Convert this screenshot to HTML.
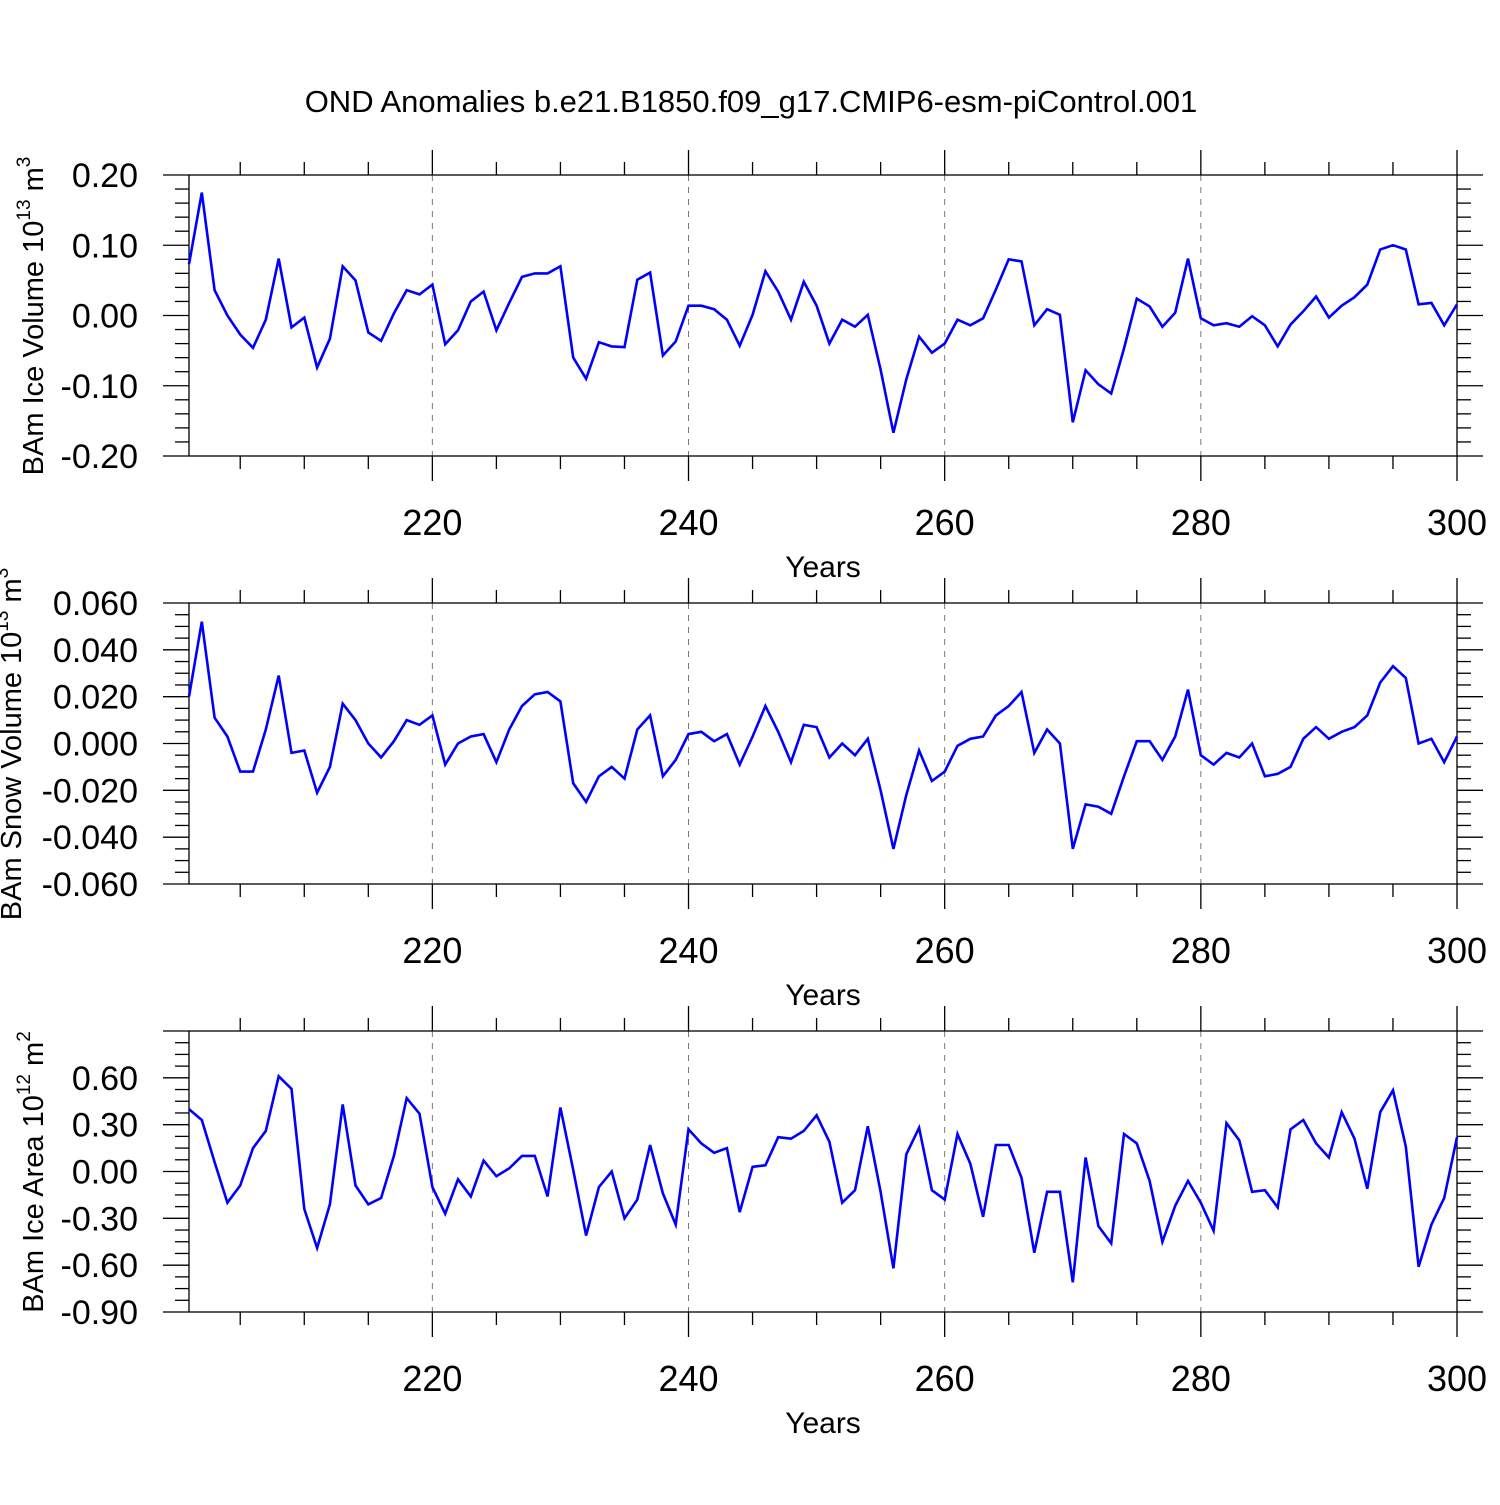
<!DOCTYPE html>
<html><head><meta charset="utf-8"><style>
body{margin:0;background:#fff}
svg text{font-family:"Liberation Sans",sans-serif;fill:#000}
</style></head><body>
<svg id="chart" width="1500" height="1500" xmlns="http://www.w3.org/2000/svg">
<text x="751" y="112" font-size="31" text-anchor="middle">OND Anomalies b.e21.B1850.f09_g17.CMIP6-esm-piControl.001</text>
</svg>
<script>
const years = [];
for (let y = 201; y <= 300; y++) years.push(y);
const iceVolume = [0.073,0.175,0.036,0.0,-0.027,-0.046,-0.006,0.081,-0.017,-0.003,-0.074,-0.033,0.07,0.05,-0.024,-0.036,0.003,0.036,0.03,0.044,-0.041,-0.021,0.02,0.034,-0.021,0.018,0.055,0.06,0.06,0.07,-0.06,-0.09,-0.038,-0.044,-0.045,0.051,0.061,-0.057,-0.037,0.014,0.014,0.009,-0.006,-0.043,0.001,0.063,0.034,-0.006,0.048,0.014,-0.04,-0.006,-0.016,0.001,-0.077,-0.167,-0.091,-0.03,-0.053,-0.04,-0.006,-0.014,-0.004,0.037,0.08,0.077,-0.014,0.009,0.001,-0.152,-0.078,-0.098,-0.111,-0.047,0.024,0.013,-0.016,0.004,0.081,-0.004,-0.014,-0.011,-0.016,-0.001,-0.014,-0.044,-0.013,0.006,0.027,-0.003,0.014,0.026,0.044,0.094,0.1,0.094,0.016,0.018,-0.014,0.016];
const snowVolume = [0.020,0.052,0.011,0.003,-0.012,-0.012,0.006,0.029,-0.004,-0.003,-0.021,-0.010,0.017,0.01,0.0,-0.006,0.001,0.010,0.008,0.012,-0.009,0.0,0.003,0.004,-0.008,0.006,0.016,0.021,0.022,0.018,-0.017,-0.025,-0.014,-0.010,-0.015,0.006,0.012,-0.014,-0.007,0.004,0.005,0.001,0.004,-0.009,0.003,0.016,0.005,-0.008,0.008,0.007,-0.006,0.0,-0.005,0.002,-0.020,-0.045,-0.022,-0.003,-0.016,-0.012,-0.001,0.002,0.003,0.012,0.016,0.022,-0.004,0.006,0.0,-0.045,-0.026,-0.027,-0.030,-0.014,0.001,0.001,-0.007,0.003,0.023,-0.005,-0.009,-0.004,-0.006,0.0,-0.014,-0.013,-0.010,0.002,0.007,0.002,0.005,0.007,0.012,0.026,0.033,0.028,0.0,0.002,-0.008,0.003];
const iceArea = [0.40,0.33,0.06,-0.20,-0.09,0.15,0.26,0.61,0.53,-0.24,-0.49,-0.21,0.43,-0.09,-0.21,-0.17,0.1,0.47,0.37,-0.10,-0.27,-0.05,-0.16,0.07,-0.03,0.02,0.10,0.10,-0.16,0.41,0.01,-0.41,-0.10,0.0,-0.30,-0.18,0.17,-0.14,-0.34,0.27,0.18,0.12,0.15,-0.26,0.03,0.04,0.22,0.21,0.26,0.36,0.19,-0.20,-0.12,0.29,-0.13,-0.62,0.11,0.28,-0.12,-0.18,0.24,0.05,-0.29,0.17,0.17,-0.04,-0.52,-0.13,-0.13,-0.71,0.09,-0.35,-0.46,0.24,0.18,-0.06,-0.45,-0.22,-0.06,-0.20,-0.38,0.31,0.20,-0.13,-0.12,-0.23,0.27,0.33,0.18,0.09,0.38,0.21,-0.11,0.38,0.52,0.16,-0.61,-0.34,-0.17,0.22];
const xTickLabels = [220,240,260,280,300];
const yTicks1 = ["0.20","0.10","0.00","-0.10","-0.20"];
const yTicks2 = ["0.060","0.040","0.020","0.000","-0.020","-0.040","-0.060"];
const yTicks3 = ["0.60","0.30","0.00","-0.30","-0.60","-0.90"];

const svg = document.getElementById('chart');
const NS = 'http://www.w3.org/2000/svg';
const X0 = 189, X1 = 1457, YR0 = 201, YR1 = 300;
function xs(yr){ return X0 + (yr - YR0) * (X1 - X0) / (YR1 - YR0); }
function mk(tag, attrs, parent){ const e = document.createElementNS(NS, tag); for (const k in attrs) e.setAttribute(k, attrs[k]); (parent||svg).appendChild(e); return e; }

function panel(id, top, bottom, ymin, ymax, major, minor, ticks, values, titleHtml, titleX, titleCY){
  const g = mk('g', {});
  
  
  const ys = v => bottom - (v - ymin) * (bottom - top) / (ymax - ymin);
  [220,240,260,280].forEach(yr => {
    const l = mk('line', {x1:xs(yr), x2:xs(yr), y1:top, y2:bottom, stroke:'#777', 'stroke-width':1, 'stroke-dasharray':'6,6'}, g);
    
    
  });
  for (let yr = 205; yr <= 300; yr += 5) {
    const isMaj = yr % 20 === 0;
    const len = isMaj ? 25 : 13;
    mk('line', {x1:xs(yr), x2:xs(yr), y1:top, y2:top-len, stroke:'#000', 'stroke-width':1.3}, g);
    mk('line', {x1:xs(yr), x2:xs(yr), y1:bottom, y2:bottom+len, stroke:'#000', 'stroke-width':1.3}, g);
  }
  const n = Math.round((ymax - ymin) / minor);
  for (let i = 0; i <= n; i++) {
    const v = ymin + i * minor;
    const isMaj = Math.abs(Math.round((v - ymin) / major) * major - (v - ymin)) < minor * 0.01;
    const len = isMaj ? 26 : 14;
    const y = ys(v);
    mk('line', {x1:X0, x2:X0-len, y1:y, y2:y, stroke:'#000', 'stroke-width':1.3}, g);
    mk('line', {x1:X1, x2:X1+len, y1:y, y2:y, stroke:'#000', 'stroke-width':1.3}, g);
  }
  ticks.forEach(t => {
    const tx = mk('text', {x:138, y:ys(parseFloat(t)) + 12, 'font-size':34, 'text-anchor':'end'}, g);
    tx.textContent = t;
    
    
  });
  xTickLabels.forEach(t => {
    const tx = mk('text', {x:xs(t), y:bottom + 79, 'font-size':36, 'text-anchor':'middle'}, g);
    tx.textContent = t;
    
    
  });
  const xt = mk('text', {x:823, y:bottom + 121, 'font-size':30, 'text-anchor':'middle'}, g);
  xt.textContent = 'Years';
  
  
  const fr = mk('rect', {x:X0, y:top, width:X1-X0, height:bottom-top, fill:'none', stroke:'#000', 'stroke-width':1.3}, g);
  
  
  const pts = values.map((v,i) => xs(years[i]).toFixed(1) + ',' + ys(v).toFixed(1)).join(' ');
  const pl = mk('polyline', {points:pts, fill:'none', stroke:'#0000ff', 'stroke-width':2.6, 'stroke-linejoin':'miter'}, g);
  
  
  const yt = mk('text', {x:0, y:0, 'font-size':29, 'text-anchor':'middle', transform:'translate(' + titleX + ',' + titleCY + ') rotate(-90)'}, g);
  yt.innerHTML = titleHtml;
  
  
}
panel('ice-volume', 175, 456, -0.2, 0.2, 0.1, 0.02, yTicks1, iceVolume,
  'BAm Ice Volume 10<tspan font-size="19" dy="-13">13</tspan><tspan dy="13"> m</tspan><tspan font-size="19" dy="-13">3</tspan>', 43, 316);
panel('snow-volume', 603, 884, -0.06, 0.06, 0.02, 0.005, yTicks2, snowVolume,
  'BAm Snow Volume 10<tspan font-size="19" dy="-13">13</tspan><tspan dy="13"> m</tspan><tspan font-size="19" dy="-13">3</tspan>', 21, 744);
panel('ice-area', 1031, 1312, -0.9, 0.9, 0.3, 0.075, yTicks3, iceArea,
  'BAm Ice Area 10<tspan font-size="19" dy="-13">12</tspan><tspan dy="13"> m</tspan><tspan font-size="19" dy="-13">2</tspan>', 43, 1172);
</script>
</body></html>
